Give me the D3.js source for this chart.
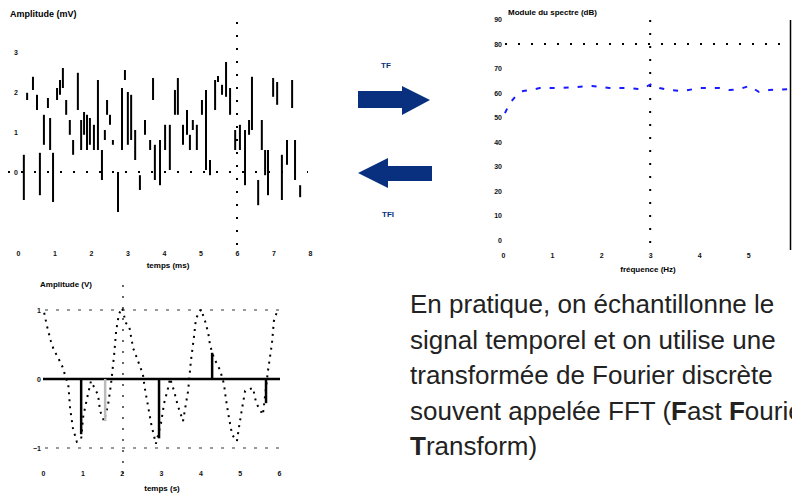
<!DOCTYPE html>
<html>
<head>
<meta charset="utf-8">
<script src="https://cdn.jsdelivr.net/npm/d3@7"></script>
<style>
  body { margin: 0; background: #fff; }
  svg { display: block; font-family: "Liberation Sans", Arial, sans-serif; }
  .tick text { fill: #111; }
</style>
</head>
<body>
<svg id="slide" width="792" height="493"></svg>
<script>
// signal temporel (haut gauche) : un trait vertical par echantillon, min et max
var tA = [0.16, 0.25, 0.41, 0.52, 0.60, 0.71, 0.82, 0.88, 0.96, 1.07, 1.15, 1.23, 1.32, 1.42, 1.51,
  1.64, 1.73, 1.81, 1.89, 1.97, 2.08, 2.19, 2.30, 2.38, 2.44, 2.52, 2.60, 2.74, 2.85, 2.93,
  3.01, 3.10, 3.21, 3.34, 3.48, 3.62, 3.70, 3.75, 3.89, 4.03, 4.16, 4.30, 4.38, 4.52, 4.63,
  4.71, 4.79, 4.90, 5.04, 5.15, 5.26, 5.40, 5.48, 5.59, 5.70, 5.81, 5.95, 6.08, 6.22, 6.33,
  6.41, 6.58, 6.68, 6.77, 6.85, 6.99, 7.10, 7.23, 7.37, 7.51, 7.59, 7.73];
var ampHigh = [0.43, 1.98, 2.38, 1.93, 0.48, 1.43, 1.85, 1.35, 0.48, 2.10, 2.30, 2.60, 1.80, 1.30, 0.80,
  2.48, 1.30, 1.50, 1.43, 1.35, 1.18, 2.30, 0.55, 1.05, 1.80, 1.43, 0.80, 0.00, 2.10, 2.55,
  2.00, 1.93, 1.05, -0.08, 1.30, 0.80, 2.35, 0.68, 0.80, 1.18, 1.18, 2.05, 2.35, 1.18, 1.55,
  0.93, 1.30, 1.18, 1.80, 2.05, 0.30, 2.30, 2.40, 2.18, 2.75, 2.10, 1.05, 1.18, 1.05, 1.30,
  2.38, -0.20, 1.30, 0.55, 0.55, 2.35, 2.25, 0.43, 0.80, 2.30, 0.80, -0.33];
var ampLow = [-0.70, 1.80, 2.05, 1.55, -0.58, 0.68, 1.60, 0.55, -0.75, 1.80, 1.93, 2.10, 1.43, 0.93, 0.43,
  1.55, 0.55, 0.93, 0.55, 0.68, 0.55, 0.55, -0.20, 0.80, 1.43, 1.18, 0.68, -1.00, 0.55, 2.30,
  0.68, 0.80, 0.30, -0.45, 0.93, 0.55, 1.80, -0.20, -0.33, 0.55, 0.05, 1.43, 1.43, 0.68, 0.93,
  0.55, 1.05, 0.55, 1.43, 0.05, -0.08, 1.55, 2.25, 1.93, 1.88, 1.43, 0.55, 0.55, -0.33, 0.93,
  1.05, -0.83, 0.55, -0.08, -0.58, 1.88, 1.68, -0.70, 0.18, 1.60, -0.20, -0.63];
var ticksAx = [0, 1, 2, 3, 4, 5, 6, 7, 8];
var ticksAy = [0, 1, 2, 3];

// spectre (haut droite)
var freqB = [0.04, 0.10, 0.16, 0.26, 0.41, 0.55, 0.75, 1.16, 1.46, 1.81, 2.17, 2.58, 2.78, 2.95, 3.03,
  3.19, 3.39, 3.66, 4.00, 4.41, 4.61, 4.82, 5.02, 5.22, 5.43, 5.83];
var magB = [5.18, 5.43, 5.63, 5.88, 6.08, 6.12, 6.20, 6.20, 6.24, 6.29, 6.20, 6.20, 6.16, 6.29, 6.37,
  6.20, 6.12, 6.08, 6.20, 6.20, 6.12, 6.16, 6.29, 6.04, 6.12, 6.16];
var ticksBx = [0, 1, 2, 3, 4, 5];
var ticksBy = [0, 1, 2, 3, 4, 5, 6, 7, 8, 9];

// signal echantillonne (bas gauche)
var tC = [0.03, 0.10, 0.20, 0.28, 0.38, 0.43, 0.51, 0.58, 0.64, 0.69, 0.76, 0.86, 0.97, 1.02, 1.12,
  1.22, 1.40, 1.45, 1.55, 1.65, 1.73, 1.81, 1.86, 1.93, 2.01, 2.11, 2.19, 2.29, 2.39, 2.54,
  2.59, 2.67, 2.75, 2.87, 3.00, 3.08, 3.18, 3.23, 3.33, 3.43, 3.56, 3.69, 3.76, 3.84, 3.89,
  4.02, 4.12, 4.20, 4.25, 4.35, 4.50, 4.60, 4.65, 4.73, 4.81, 4.93, 4.98, 5.06, 5.14, 5.34,
  5.42, 5.59, 5.72, 5.82, 5.87, 5.97];
var sigC = [0.96, 0.77, 0.55, 0.41, 0.32, 0.25, 0.16, 0.01, -0.06, -0.43, -0.71, -0.91, -0.87, -0.55, -0.28,
  -0.03, -0.23, -0.46, -0.61, -0.39, -0.07, 0.36, 0.70, 0.94, 1.03, 0.81, 0.77, 0.45, 0.30, 0.07,
  -0.14, -0.39, -0.65, -0.94, -0.64, -0.35, -0.13, 0.01, -0.17, -0.39, -0.61, -0.17, 0.26, 0.62, 0.88,
  1.01, 0.84, 0.67, 0.48, 0.30, 0.13, -0.07, -0.29, -0.57, -0.81, -0.90, -0.71, -0.43, -0.17, -0.13,
  -0.35, -0.52, 0.12, 0.51, 0.84, 1.01];
var stemT = [0.97, 1.58, 2.95, 4.30, 5.67];
var stemV = [-0.80, -0.61, -0.86, 0.38, -0.35];
var stemGrey = [false, true, false, false, false];
var ticksCx = [0, 1, 2, 3, 4, 5, 6];
var ticksCy = [-1, 0, 1];

var paragraphe = [
  [["En pratique, on échantillonne le", false]],
  [["signal temporel et on utilise une", false]],
  [["transformée de Fourier discrète", false]],
  [["souvent appelée FFT (", false], ["F", true], ["ast ", false], ["F", true], ["ourier", false]],
  [["T", true], ["ransform)", false]]
];

var svg = d3.select("#slide");
svg.append("rect").attr("width", 792).attr("height", 493).attr("fill", "#fff");

// petit utilitaire pour les lignes pointillees
function pointilles(g, x1, y1, x2, y2, couleur, dash) {
  g.append("line")
    .attr("x1", x1).attr("y1", y1).attr("x2", x2).attr("y2", y2)
    .attr("stroke", couleur).attr("stroke-width", 2)
    .attr("stroke-dasharray", dash);
}

function petitAxe(g, axe) {
  g.call(axe);
  g.select(".domain").remove();
  g.selectAll("text").attr("font-size", 7).attr("font-weight", "bold");
}

var entier = d3.format("d");

// ---------- panneau A ----------
var xA = d3.scaleLinear().domain([0, 8]).range([18, 310]);
var yA = d3.scaleLinear().domain([-1.825, 3.75]).range([245, 22]);
var gA = svg.append("g");

pointilles(gA, 8, yA(0), 308, yA(0), "#000", "2,11");
pointilles(gA, xA(6), 22, xA(6), 245, "#000", "2,11");

gA.selectAll("line.trait")
  .data(tA)
  .enter()
  .append("line")
  .attr("class", "trait")
  .attr("x1", function (d) { return xA(d); })
  .attr("x2", function (d) { return xA(d); })
  .attr("y1", function (d, i) { return yA(ampHigh[i]); })
  .attr("y2", function (d, i) { return yA(ampLow[i]); })
  .attr("stroke", "#000")
  .attr("stroke-width", 2);

petitAxe(gA.append("g").attr("transform", "translate(20,0)"),
  d3.axisLeft(yA).tickValues(ticksAy).tickSize(0).tickPadding(2).tickFormat(entier));
petitAxe(gA.append("g").attr("transform", "translate(0,247)"),
  d3.axisBottom(xA).tickValues(ticksAx).tickSize(0).tickPadding(4).tickFormat(entier));
gA.append("text").attr("x", 10).attr("y", 17).attr("font-size", 9).attr("font-weight", "bold")
  .text("Amplitude (mV)");
gA.append("text").attr("x", 168).attr("y", 268).attr("font-size", 8).attr("text-anchor", "middle")
  .attr("font-weight", "bold").text("temps (ms)");

// ---------- fleches ----------
var bleu = "#08307f";
svg.append("path")
  .attr("d", "M358,91 L402,91 L402,86 L430,100 L402,115 L402,108 L358,108 Z")
  .attr("fill", bleu);
svg.append("path")
  .attr("d", "M432,166 L388,166 L388,158 L358,173 L388,188 L388,181 L432,181 Z")
  .attr("fill", bleu);
svg.append("text").attr("x", 386).attr("y", 68).attr("text-anchor", "middle")
  .attr("font-size", 8).attr("font-weight", "bold").attr("fill", bleu).text("TF");
svg.append("text").attr("x", 388).attr("y", 217).attr("text-anchor", "middle")
  .attr("font-size", 8).attr("font-weight", "bold").attr("fill", bleu).text("TFI");

// ---------- panneau B ----------
var xB = d3.scaleLinear().domain([0, 5.85]).range([503, 790]);
var yB = d3.scaleLinear().domain([0, 9]).range([240, 19.5]);
var gB = svg.append("g");

pointilles(gB, 505, yB(8), 790, yB(8), "#000", "2,11");
pointilles(gB, xB(3), 20, xB(3), 250, "#000", "2,11");
gB.append("line").attr("x1", 790.5).attr("x2", 790.5).attr("y1", 20).attr("y2", 250)
  .attr("stroke", "#000").attr("stroke-width", 1.5);

var ligneB = d3.line()
  .x(function (d, i) { return xB(freqB[i]); })
  .y(function (d) { return yB(d); });
gB.append("path")
  .datum(magB)
  .attr("d", ligneB)
  .attr("fill", "none")
  .attr("stroke", "#1a1aff")
  .attr("stroke-width", 2)
  .attr("stroke-dasharray", "5,9");

petitAxe(gB.append("g").attr("transform", "translate(504,0)"),
  d3.axisLeft(yB).tickValues(ticksBy).tickSize(0).tickPadding(2).tickFormat(function (d) { return d * 10; }));
petitAxe(gB.append("g").attr("transform", "translate(0,250)"),
  d3.axisBottom(xB).tickValues(ticksBx).tickSize(0).tickPadding(3).tickFormat(entier));
gB.append("text").attr("x", 508).attr("y", 15).attr("font-size", 8).attr("font-weight", "bold")
  .text("Module du spectre (dB)");
gB.append("text").attr("x", 648).attr("y", 272).attr("font-size", 8).attr("text-anchor", "middle")
  .attr("font-weight", "bold").text("fréquence (Hz)");

// ---------- panneau C ----------
var xC = d3.scaleLinear().domain([0, 6]).range([43, 279]);
var yC = d3.scaleLinear().domain([-1, 1]).range([448, 310]);
var gC = svg.append("g");

pointilles(gC, 45, yC(1), 280, yC(1), "#999", "3,8");
pointilles(gC, 45, yC(-1), 280, yC(-1), "#999", "3,8");
pointilles(gC, 123, 285, 123, 478, "#666", "2,9");

gC.append("line").attr("x1", xC(0)).attr("x2", xC(6) + 1).attr("y1", yC(0)).attr("y2", yC(0))
  .attr("stroke", "#000").attr("stroke-width", 2.5);

var ligneC = d3.line()
  .x(function (d, i) { return xC(tC[i]); })
  .y(function (d) { return yC(d); });
gC.append("path")
  .datum(sigC)
  .attr("d", ligneC)
  .attr("fill", "none")
  .attr("stroke", "#000")
  .attr("stroke-width", 2)
  .attr("stroke-dasharray", "2,5");

gC.selectAll("line.tige")
  .data(stemV)
  .enter()
  .append("line")
  .attr("class", "tige")
  .attr("x1", function (d, i) { return xC(stemT[i]); })
  .attr("x2", function (d, i) { return xC(stemT[i]); })
  .attr("y1", yC(0))
  .attr("y2", function (d) { return yC(d); })
  .attr("stroke", function (d, i) { return stemGrey[i] ? "#bbb" : "#000"; })
  .attr("stroke-width", 2.5);

petitAxe(gC.append("g").attr("transform", "translate(44,0)"),
  d3.axisLeft(yC).tickValues(ticksCy).tickSize(0).tickPadding(3).tickFormat(entier));
petitAxe(gC.append("g").attr("transform", "translate(0,468)"),
  d3.axisBottom(xC).tickValues(ticksCx).tickSize(0).tickPadding(3).tickFormat(entier));
gC.append("text").attr("x", 40).attr("y", 287).attr("font-size", 8).attr("font-weight", "bold")
  .text("Amplitude (V)");
gC.append("text").attr("x", 162).attr("y", 491).attr("font-size", 8).attr("text-anchor", "middle")
  .attr("font-weight", "bold").text("temps (s)");

// ---------- texte ----------
var bloc = svg.append("text")
  .attr("font-size", 26)
  .attr("fill", "#222");
paragraphe.forEach(function (ligne, i) {
  var l = bloc.append("tspan").attr("x", 410).attr("y", 313 + i * 35.5);
  ligne.forEach(function (morceau) {
    l.append("tspan").attr("font-weight", morceau[1] ? "bold" : null).text(morceau[0]);
  });
});
</script>
</body>
</html>
